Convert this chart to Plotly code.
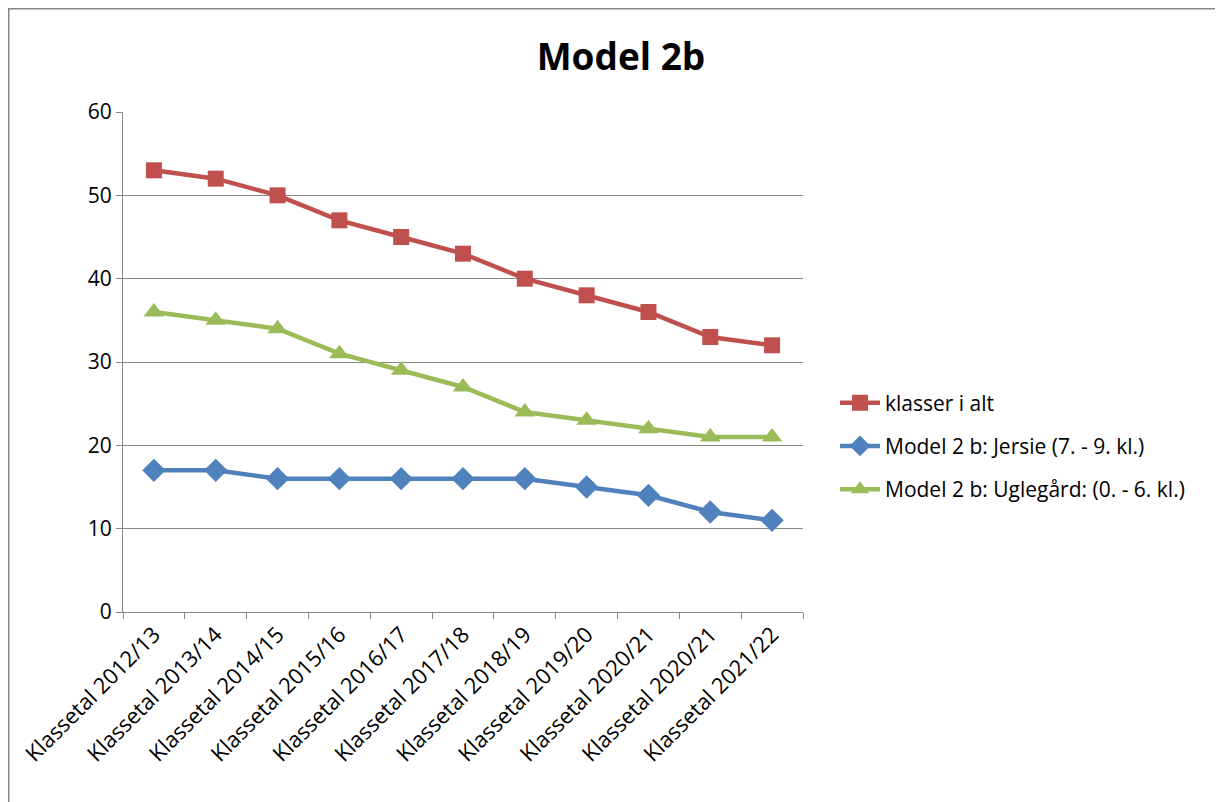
import plotly.graph_objects as go

categories = ["Klassetal 2012/13", "Klassetal 2013/14", "Klassetal 2014/15", "Klassetal 2015/16",
              "Klassetal 2016/17", "Klassetal 2017/18", "Klassetal 2018/19", "Klassetal 2019/20",
              "Klassetal 2020/21", "Klassetal 2020/21", "Klassetal 2021/22"]
klasser_i_alt = [53, 52, 50, 47, 45, 43, 40, 38, 36, 33, 32]
jersie = [17, 17, 16, 16, 16, 16, 16, 15, 14, 12, 11]
uglegaard = [36, 35, 34, 31, 29, 27, 24, 23, 22, 21, 21]
y_ticks = [0, 10, 20, 30, 40, 50, 60]

xs = list(range(len(categories)))
FONT = "Open Sans"

fig = go.Figure()
fig.add_trace(go.Scatter(x=xs, y=klasser_i_alt, name="klasser i alt", mode="lines+markers",
                         legendgroup="a",
                         line=dict(color="#C0504D", width=4.5),
                         marker=dict(symbol="square", size=16, color="#C0504D")))
fig.add_trace(go.Scatter(x=xs, y=jersie, name="Model 2 b: Jersie (7. - 9. kl.)", mode="lines+markers",
                         legendgroup="b",
                         line=dict(color="#4F81BD", width=4.5),
                         marker=dict(symbol="diamond", size=18, color="#4F81BD")))
fig.add_trace(go.Scatter(x=xs, y=uglegaard, name="Model 2 b: Uglegård: (0. - 6. kl.)", mode="lines+markers",
                         legendgroup="c",
                         line=dict(color="#9BBB59", width=4.5),
                         marker=dict(symbol="triangle-up", size=18, color="#9BBB59")))

OFF = 8  # page body margin
W, H = 1223, 802
L, R, T, B = 123 - OFF, 803 - OFF, 112 - OFF, 612 - OFF

def px(x):
    return (x - OFF - L) / (R - L)

def py(y):
    return (B - (y - OFF)) / (B - T)

fig.update_layout(
    width=W, height=H,
    margin=dict(l=L, r=W - R, t=T, b=H - B, autoexpand=False),
    paper_bgcolor="white", plot_bgcolor="white",
    font=dict(family=FONT, color="#000000", size=21),
    title=dict(text="<b>Model 2b</b>", x=(621 - OFF) / W, xanchor="center", xref="container",
               y=1 - (57 - OFF) / H, yanchor="middle", font=dict(size=37, family=FONT)),
    showlegend=True,
    legend=dict(x=px(835), y=py(446), xanchor="left", yanchor="middle",
                font=dict(size=21, family=FONT), tracegroupgap=13, itemwidth=40,
                bgcolor="rgba(0,0,0,0)"),
    xaxis=dict(range=[-0.5, len(categories) - 0.5], tickmode="array", tickvals=xs,
               ticktext=categories, tickangle=-45, ticks="", showgrid=False, zeroline=False,
               showline=True, linecolor="#878787", linewidth=1, automargin=False,
               tickfont=dict(size=22, family=FONT),
               minor=dict(tickmode="linear", tick0=-0.5, dtick=1, ticks="outside",
                          ticklen=6, tickcolor="#878787", showgrid=False)),
    yaxis=dict(range=[0, 60], tickmode="array", tickvals=y_ticks, ticks="outside", ticklen=6,
               tickcolor="#878787", showgrid=True, gridcolor="#878787", gridwidth=1,
               zeroline=False, showline=True, linecolor="#878787", linewidth=1, automargin=False,
               tickfont=dict(size=21, family=FONT)),
)

# outer chart frame (top and left edges visible)
fig.add_shape(type="line", xref="paper", yref="paper",
              x0=px(8), x1=px(1223), y0=py(8.5), y1=py(8.5),
              line=dict(color="#878787", width=2))
fig.add_shape(type="line", xref="paper", yref="paper",
              x0=px(8.5), x1=px(8.5), y0=py(8), y1=py(802),
              line=dict(color="#878787", width=2))

fig.write_html("out.html")
